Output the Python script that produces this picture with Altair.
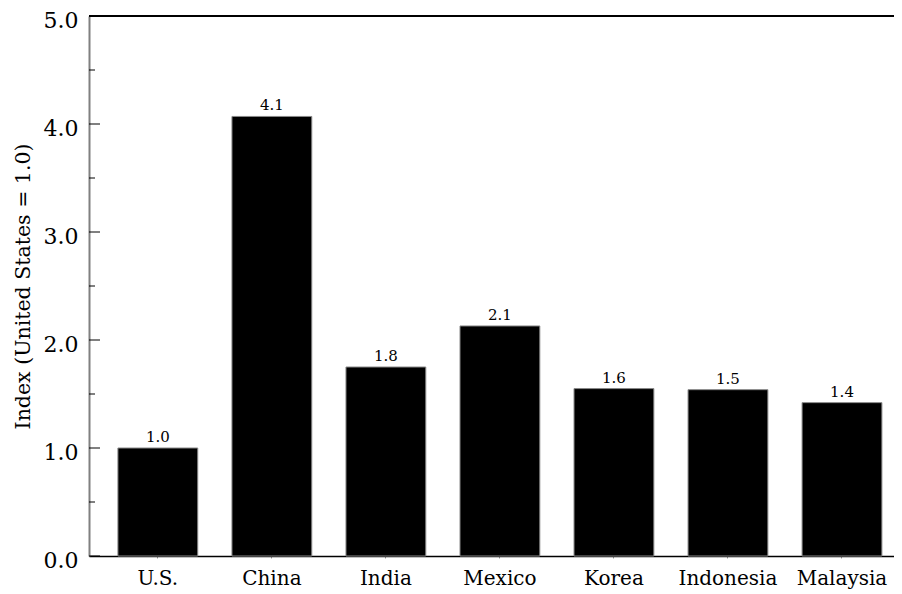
import altair as alt
import pandas as pd

countries = ["U.S.", "China", "India", "Mexico", "Korea", "Indonesia", "Malaysia"]
values = [1.0, 4.07, 1.75, 2.13, 1.55, 1.54, 1.42]
labels = ["1.0", "4.1", "1.8", "2.1", "1.6", "1.5", "1.4"]
major_ticks = [0, 1, 2, 3, 4, 5]
minor_ticks = [0.5, 1.5, 2.5, 3.5, 4.5]

df = pd.DataFrame({"country": countries, "value": values, "label": labels})
maj = pd.DataFrame({"t": major_ticks})
mnr = pd.DataFrame({"t": minor_ticks})

FONT = "DejaVu Serif"
W, H = 813, 540

yscale = alt.Scale(domain=[0, 5], nice=False)
xenc = alt.X("country:N", sort=countries,
             scale=alt.Scale(paddingInner=0.3, paddingOuter=0.215, align=0.59),
             axis=alt.Axis(title=None, labelAngle=0, labelFontSize=20, labelFont=FONT,
                           labelColor="black", labelPadding=10, ticks=True, tickSize=2,
                           tickColor="#999999", domainColor="black", domainWidth=1.5))
yenc = alt.Y("value:Q", scale=yscale,
             axis=alt.Axis(title="Index (United States = 1.0)", values=major_ticks, format=".1f",
                           titleFont=FONT, titleFontSize=20.5, titleFontWeight="normal",
                           titleColor="black", labelFont=FONT, labelFontSize=22,
                           labelColor="black", labelPadding=11, labelOffset=4, ticks=False,
                           grid=False, domainColor="#808080", domainWidth=2, titlePadding=10))

bars = alt.Chart(df).mark_bar(color="black", stroke="#888888", strokeWidth=1).encode(x=xenc, y=yenc)
text = alt.Chart(df).mark_text(font=FONT, fontSize=15, baseline="bottom", dy=-3, color="black").encode(
    x=alt.X("country:N", sort=countries), y=alt.Y("value:Q", scale=yscale), text="label:N")
top = alt.Chart(df).mark_rule(color="black", strokeWidth=1.5).encode(
    x=alt.value(0), x2=alt.value(W + 10), y=alt.value(0))
tmaj = alt.Chart(maj).mark_rule(color="black", strokeWidth=1).encode(
    y=alt.Y("t:Q", scale=yscale), x=alt.value(0), x2=alt.value(11))
tmin = alt.Chart(mnr).mark_rule(color="black", strokeWidth=1).encode(
    y=alt.Y("t:Q", scale=yscale), x=alt.value(0), x2=alt.value(6))

chart = alt.layer(bars, text, top, tmaj, tmin).properties(
    width=W, height=H,
    autosize=alt.AutoSizeParams(type="none"),
    padding={"left": 81, "top": 8, "right": -8, "bottom": 37},
).configure_view(stroke=None).configure(background="white")

chart.save("out.html", embed_options={"renderer": "svg", "actions": False})
